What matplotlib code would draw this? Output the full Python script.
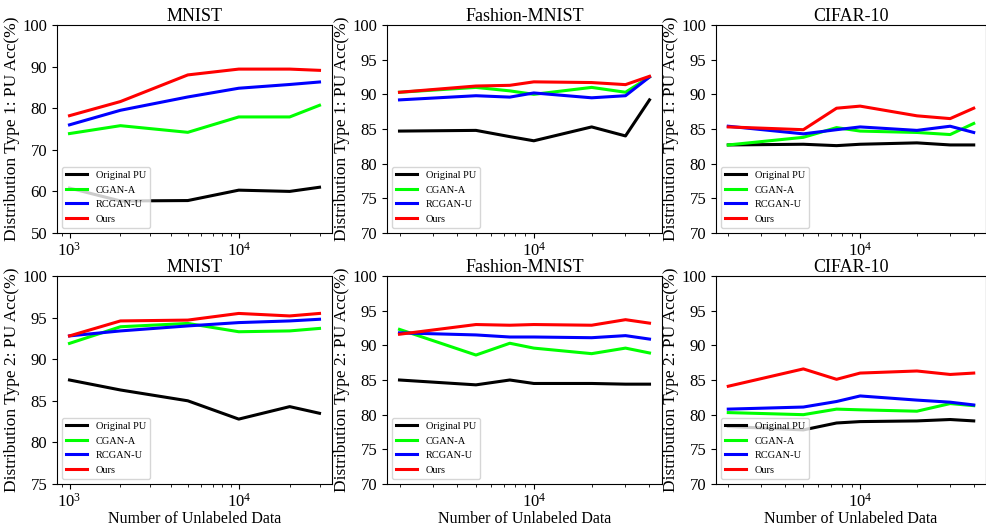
import matplotlib
matplotlib.use('Agg')
import matplotlib.pyplot as plt

plt.rcParams['font.family'] = ['Liberation Serif', 'DejaVu Serif']
plt.rcParams['mathtext.fontset'] = 'stix'

# x values (number of unlabeled data)
x_mnist = [1000, 2000, 5000, 10000, 20000, 30000]
x_other = [2000, 5000, 7500, 10000, 20000, 30000, 40000]

methods = ['Original PU', 'CGAN-A', 'RCGAN-U', 'Ours']
colors = ['black', 'lime', 'blue', 'red']

# Distribution Type 1
mnist_t1 = {
    'Original PU': [60.8, 57.7, 57.8, 60.3, 60.0, 61.0],
    'CGAN-A': [73.9, 75.8, 74.2, 77.9, 77.9, 80.7],
    'RCGAN-U': [76.0, 79.5, 82.7, 84.8, 85.7, 86.3],
    'Ours': [78.2, 81.6, 88.0, 89.4, 89.4, 89.1],
}
fashion_t1 = {
    'Original PU': [84.7, 84.8, 83.9, 83.3, 85.3, 84.0, 89.2],
    'CGAN-A': [90.3, 91.0, 90.5, 90.0, 91.0, 90.3, 92.5],
    'RCGAN-U': [89.2, 89.8, 89.6, 90.2, 89.5, 89.8, 92.5],
    'Ours': [90.3, 91.2, 91.3, 91.8, 91.7, 91.4, 92.6],
}
cifar_t1 = {
    'Original PU': [82.7, 82.8, 82.6, 82.8, 83.0, 82.7, 82.7],
    'CGAN-A': [82.7, 83.8, 85.2, 84.7, 84.5, 84.2, 85.8],
    'RCGAN-U': [85.4, 84.3, 84.9, 85.3, 84.8, 85.4, 84.5],
    'Ours': [85.3, 84.9, 88.0, 88.3, 86.9, 86.5, 88.0],
}

# Distribution Type 2
mnist_t2 = {
    'Original PU': [87.5, 86.3, 85.0, 82.8, 84.3, 83.5],
    'CGAN-A': [91.9, 93.9, 94.3, 93.3, 93.4, 93.7],
    'RCGAN-U': [92.8, 93.4, 94.0, 94.4, 94.6, 94.8],
    'Ours': [92.8, 94.6, 94.7, 95.5, 95.2, 95.5],
}
fashion_t2 = {
    'Original PU': [85.0, 84.3, 85.0, 84.5, 84.5, 84.4, 84.4],
    'CGAN-A': [92.3, 88.6, 90.3, 89.6, 88.8, 89.6, 88.9],
    'RCGAN-U': [91.8, 91.5, 91.2, 91.2, 91.1, 91.4, 90.9],
    'Ours': [91.6, 93.0, 92.9, 93.0, 92.9, 93.7, 93.2],
}
cifar_t2 = {
    'Original PU': [78.3, 77.8, 78.8, 79.0, 79.1, 79.3, 79.1],
    'CGAN-A': [80.3, 80.0, 80.8, 80.7, 80.5, 81.6, 81.3],
    'RCGAN-U': [80.8, 81.1, 81.9, 82.7, 82.1, 81.8, 81.4],
    'Ours': [84.1, 86.6, 85.1, 86.0, 86.3, 85.8, 86.0],
}

panels = [
    (0, 0, 'MNIST', x_mnist, mnist_t1, (50, 100), 10),
    (0, 1, 'Fashion-MNIST', x_other, fashion_t1, (70, 100), 5),
    (0, 2, 'CIFAR-10', x_other, cifar_t1, (70, 100), 5),
    (1, 0, 'MNIST', x_mnist, mnist_t2, (75, 100), 5),
    (1, 1, 'Fashion-MNIST', x_other, fashion_t2, (70, 100), 5),
    (1, 2, 'CIFAR-10', x_other, cifar_t2, (70, 100), 5),
]

fig = plt.figure(figsize=(9.87, 5.25), dpi=100)
lefts = [57, 387, 716]
widths = [275, 275, 270]
bottoms = [1 - 233 / 525, 1 - 484 / 525]
height = 208 / 525

for row, col, title, xs, data, ylim, step in panels:
    ax = fig.add_axes([lefts[col] / 987, bottoms[row], widths[col] / 987, height])
    for m, c in zip(methods, colors):
        ax.plot(xs, data[m], color=c, lw=2.2, label=m)
    ax.set_xscale('log')
    ax.set_ylim(*ylim)
    ax.set_yticks(range(ylim[0], ylim[1] + 1, step))
    ax.set_title(title, fontsize=13, pad=1)
    ax.set_ylabel('Distribution Type %d: PU Acc(%%)' % (row + 1), fontsize=12.5, labelpad=2)
    if row == 1:
        ax.set_xlabel('Number of Unlabeled Data', fontsize=11.5, labelpad=0)
    ax.tick_params(labelsize=12)
    ax.tick_params(axis='x', which='major', pad=3)
    ax.legend(loc='lower left', fontsize=7.5)

plt.savefig('out.png', dpi=100)
